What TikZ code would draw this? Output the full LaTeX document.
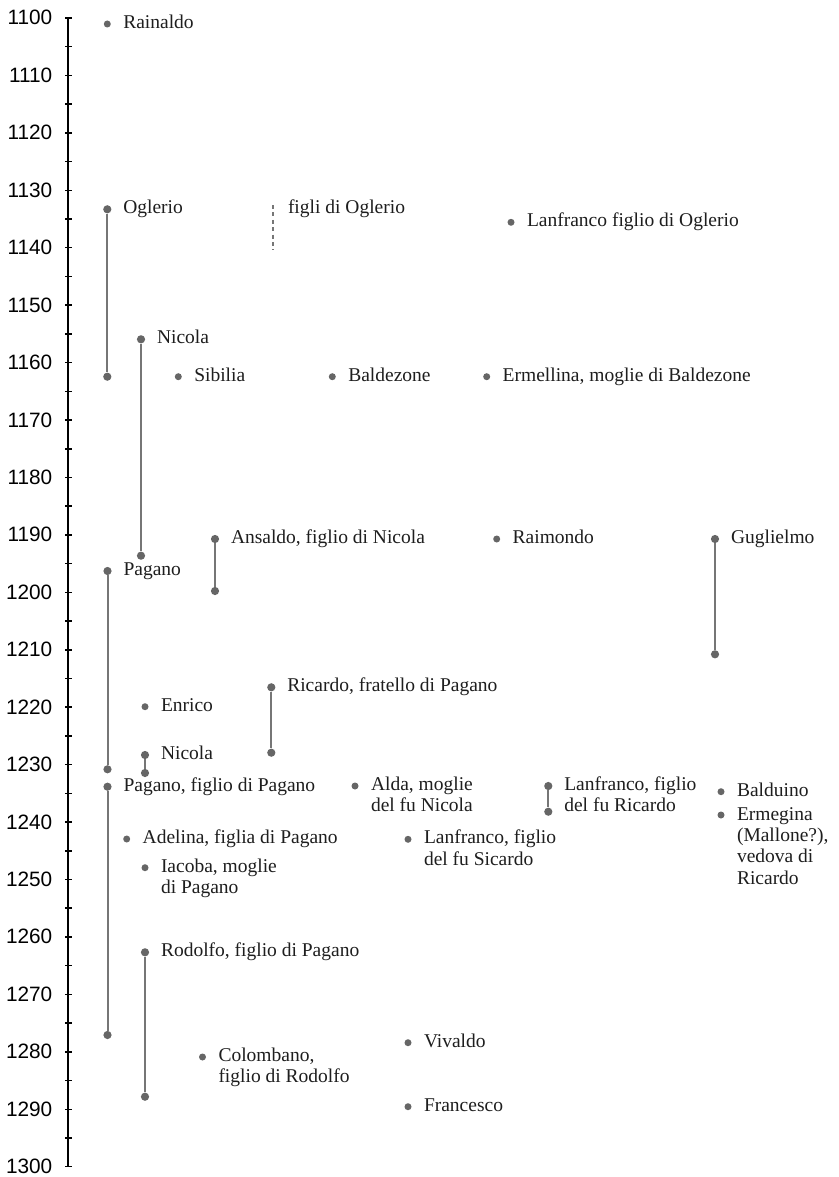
\documentclass[tikz,border=0pt]{standalone}
\usepackage{fontspec}
\setmainfont{Liberation Serif}
\newfontfamily\axisfont{Liberation Sans}
\definecolor{dotgray}{HTML}{666666}
\definecolor{linegray}{HTML}{767676}
\definecolor{txtcol}{HTML}{1E1E1E}
\tikzset{
  pdot/.style={circle, fill=dotgray, draw=none, inner sep=0pt, minimum size=7pt},
  edot/.style={circle, fill=dotgray, draw=none, inner sep=0pt, minimum size=8.2pt},
  life/.style={draw=linegray, line width=2pt},
  grp/.style={draw=linegray, line width=1.8pt, dash pattern=on 4pt off 3.4pt},
  lbl/.style={anchor=base west, inner sep=0pt, outer sep=0pt, text=txtcol,
              font=\fontsize{19.5}{21.3}\selectfont},
  yearlbl/.style={anchor=base east, inner sep=0pt, text=black,
              font=\axisfont\fontsize{20.8}{22}\selectfont},
  axisline/.style={draw=black, line width=2pt},
  tickline/.style={draw=black, line width=1.5pt}
}
\newcommand{\mlines}[1]{\begin{tabular}[t]{@{}l@{}}#1\end{tabular}}
\begin{document}
\begin{tikzpicture}[x=1pt,y=-1pt]
\fill[white] (0,0) rectangle (838,1177);
\useasboundingbox (0,0) rectangle (838,1177);

% axis
\coordinate (axtop) at (68.3,18);
\coordinate (axbot) at (68.3,1166.7);
\draw[axisline] (axtop) -- (axbot);
\foreach \i in {0,...,40}{
  \pgfmathsetmacro{\yy}{18+\i*28.717}
  \draw[tickline] (65,\yy) -- (71.6,\yy);
}
\foreach \i in {0,...,20}{
  \pgfmathsetmacro{\yy}{18+\i*57.435+7}
  \pgfmathtruncatemacro{\yr}{1100+10*\i}
  \node[yearlbl] (yr\i) at (52.5,\yy) {\yr};
}

% Rainaldo
\node[pdot] (rain) at (107.3,24) {};
\node[lbl] (rainT) at ([xshift=16pt,yshift=-4.5pt]rain.center) {Rainaldo};

% Oglerio
\node[edot] (ogl) at (107.3,209.3) {};
\node[edot] (oglE) at (107.3,376.7) {};
\draw[life] (ogl) -- (oglE);
\node[lbl] (oglT) at ([xshift=16pt,yshift=-4.5pt]ogl.center) {Oglerio};

% figli di Oglerio
\coordinate (figA) at (272.7,205);
\coordinate (figB) at (272.7,250);
\draw[grp] (figA) -- (figB);
\node[lbl] (figT) at (288,213.5) {figli di Oglerio};

% Lanfranco figlio di Oglerio
\node[pdot] (lanO) at (511,222.3) {};
\node[lbl] (lanOT) at ([xshift=16pt,yshift=-4.5pt]lanO.center) {Lanfranco figlio di Oglerio};

% Nicola
\node[edot] (nic) at (141,339.3) {};
\node[edot] (nicE) at (141,555.7) {};
\draw[life] (nic) -- (nicE);
\node[lbl] (nicT) at ([xshift=16pt,yshift=-4.5pt]nic.center) {Nicola};

% Sibilia, Baldezone, Ermellina
\node[pdot] (sib) at (178.3,376.7) {};
\node[lbl] (sibT) at ([xshift=16pt,yshift=-4.5pt]sib.center) {Sibilia};
\node[pdot] (bal) at (332.3,376.7) {};
\node[lbl] (balT) at ([xshift=16pt,yshift=-4.5pt]bal.center) {Baldezone};
\node[pdot] (erm) at (486.7,376.7) {};
\node[lbl] (ermT) at ([xshift=16pt,yshift=-4.5pt]erm.center) {Ermellina, moglie di Baldezone};

% Ansaldo
\node[edot] (ans) at (215,539) {};
\node[edot] (ansE) at (215,591) {};
\draw[life] (ans) -- (ansE);
\node[lbl] (ansT) at ([xshift=16pt,yshift=-4.5pt]ans.center) {Ansaldo, figlio di Nicola};

% Raimondo
\node[pdot] (rai) at (496.7,539) {};
\node[lbl] (raiT) at ([xshift=16pt,yshift=-4.5pt]rai.center) {Raimondo};

% Guglielmo
\node[edot] (gug) at (715,539) {};
\node[edot] (gugE) at (715,654.3) {};
\draw[life] (gug) -- (gugE);
\node[lbl] (gugT) at ([xshift=16pt,yshift=-4.5pt]gug.center) {Guglielmo};

% Pagano
\node[edot] (pag) at (107.5,571) {};
\node[edot] (pagE) at (107.5,769.3) {};
\draw[life] (pag) -- (pagE);
\node[lbl] (pagT) at ([xshift=16pt,yshift=-4.5pt]pag.center) {Pagano};

% Ricardo
\node[edot] (ric) at (271.3,687.3) {};
\node[edot] (ricE) at (271.3,752.7) {};
\draw[life] (ric) -- (ricE);
\node[lbl] (ricT) at ([xshift=16pt,yshift=-4.5pt]ric.center) {Ricardo, fratello di Pagano};

% Enrico
\node[pdot] (enr) at (145,706.7) {};
\node[lbl] (enrT) at ([xshift=16pt,yshift=-4.5pt]enr.center) {Enrico};

% Nicola (2)
\node[edot] (nicb) at (145,755) {};
\node[edot] (nicbE) at (145,773) {};
\draw[life] (nicb) -- (nicbE);
\node[lbl] (nicbT) at ([xshift=16pt,yshift=-4.5pt]nicb.center) {Nicola};

% Pagano, figlio di Pagano
\node[edot] (pgf) at (107.5,786.7) {};
\node[edot] (pgfE) at (107.5,1035) {};
\draw[life] (pgf) -- (pgfE);
\node[lbl] (pgfT) at ([xshift=16pt,yshift=-4.5pt]pgf.center) {Pagano, figlio di Pagano};

% Alda
\node[pdot] (ald) at (355,786) {};
\node[lbl] (aldT) at ([xshift=16pt,yshift=-4.5pt]ald.center) {\mlines{Alda, moglie\\del fu Nicola}};

% Lanfranco, figlio del fu Ricardo
\node[edot] (lanR) at (548.3,786) {};
\node[edot] (lanRE) at (548.3,811.7) {};
\draw[life] (lanR) -- (lanRE);
\node[lbl] (lanRT) at ([xshift=16pt,yshift=-4.5pt]lanR.center) {\mlines{Lanfranco, figlio\\del fu Ricardo}};

% Balduino
\node[pdot] (bald) at (721,791.7) {};
\node[lbl] (baldT) at ([xshift=16pt,yshift=-4.5pt]bald.center) {Balduino};

% Ermegina
\node[pdot] (ermg) at (721,815) {};
\node[lbl] (ermgT) at ([xshift=16pt,yshift=-5.2pt]ermg.center) {\mlines{Ermegina\\(Mallone?),\\vedova di\\Ricardo}};

% Adelina
\node[pdot] (ade) at (126.7,839) {};
\node[lbl] (adeT) at ([xshift=16pt,yshift=-4.5pt]ade.center) {Adelina, figlia di Pagano};

% Iacoba
\node[pdot] (iac) at (145,867.7) {};
\node[lbl] (iacT) at ([xshift=16pt,yshift=-4.5pt]iac.center) {\mlines{Iacoba, moglie\\di Pagano}};

% Lanfranco, figlio del fu Sicardo
\node[pdot] (lanS) at (408,839.3) {};
\node[lbl] (lanST) at ([xshift=16pt,yshift=-4.5pt]lanS.center) {\mlines{Lanfranco, figlio\\del fu Sicardo}};

% Rodolfo
\node[edot] (rod) at (145,952.3) {};
\node[edot] (rodE) at (145,1096.7) {};
\draw[life] (rod) -- (rodE);
\node[lbl] (rodT) at ([xshift=16pt,yshift=-4.5pt]rod.center) {Rodolfo, figlio di Pagano};

% Colombano
\node[pdot] (col) at (202.5,1057) {};
\node[lbl] (colT) at ([xshift=16pt,yshift=-4.5pt]col.center) {\mlines{Colombano,\\figlio di Rodolfo}};

% Vivaldo
\node[pdot] (viv) at (408,1042.7) {};
\node[lbl] (vivT) at ([xshift=16pt,yshift=-4.5pt]viv.center) {Vivaldo};

% Francesco
\node[pdot] (fra) at (408,1106.7) {};
\node[lbl] (fraT) at ([xshift=16pt,yshift=-4.5pt]fra.center) {Francesco};
\end{tikzpicture}
\end{document}
